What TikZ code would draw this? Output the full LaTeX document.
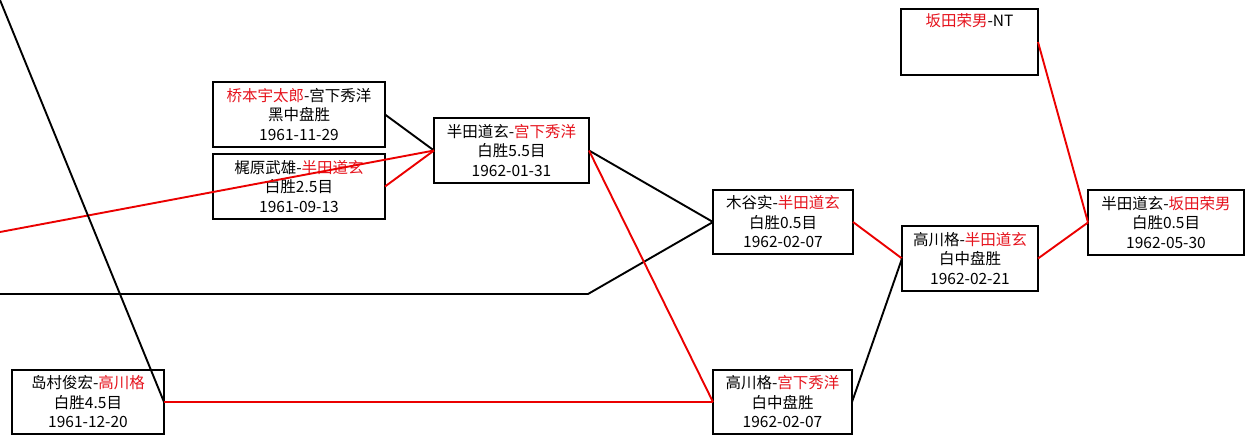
\documentclass[tikz,border=0pt]{standalone}
\usepackage{fontspec}
\newfontfamily\cjk{Noto Sans CJK SC}
\definecolor{winred}{RGB}{230,20,30}
\definecolor{linered}{RGB}{235,0,0}
\tikzset{
  game/.style={draw=black, line width=2pt, rectangle, fill=white, inner sep=0pt, outer sep=0pt,
    align=center, font=\cjk\fontsize{15.5}{19.5}\selectfont},
  blk/.style={draw=black, line width=1.9pt},
  rd/.style={draw=linered, line width=1.9pt},
}
\newcommand{\win}[1]{\textcolor{winred}{#1}}
\begin{document}
\begin{tikzpicture}[x=1pt,y=-1pt]
\useasboundingbox[fill=white] (0,0) rectangle (1252,445);
% nodes
\node[game, minimum width=172pt, minimum height=65pt] (b1) at (299,114.5) {\win{桥本宇太郎}-宫下秀洋\\黑中盘胜\\1961-11-29};
\node[game, minimum width=172pt, minimum height=65pt] (b2) at (299,186.5) {梶原武雄-\win{半田道玄}\\白胜2.5目\\1961-09-13};
\node[game, minimum width=155pt, minimum height=65pt] (c) at (511.5,150.5) {半田道玄-\win{宫下秀洋}\\白胜5.5目\\1962-01-31};
\node[game, minimum width=140pt, minimum height=64pt] (m) at (783,222) {木谷实-\win{半田道玄}\\白胜0.5目\\1962-02-07};
\node[game, minimum width=136pt, minimum height=65pt] (g2) at (970,258.5) {高川格-\win{半田道玄}\\白中盘胜\\1962-02-21};
\node[game, minimum width=156pt, minimum height=65pt] (s) at (1166,222.5) {半田道玄-\win{坂田荣男}\\白胜0.5目\\1962-05-30};
\node[game, minimum width=137pt, minimum height=66pt] (nt) at (969.5,42) {\win{坂田荣男}-NT\\\strut\\\strut};
\node[game, minimum width=152pt, minimum height=64pt] (sh) at (88,402) {岛村俊宏-\win{高川格}\\白胜4.5目\\1961-12-20};
\node[game, minimum width=139pt, minimum height=64pt] (g1) at (782.5,402) {高川格-\win{宫下秀洋}\\白中盘胜\\1962-02-07};
% free ends
\coordinate (l1) at (0,232);
\coordinate (l2) at (0,0);
\coordinate (l3) at (0,294);
\coordinate (bend) at (588,294);
% connectors
\draw[blk] (b1.east) -- (c.west);
\draw[rd] (b2.east) -- (c.west);
\draw[rd] (l1) -- (c.west);
\draw[blk] (l2) -- (sh.east);
\draw[rd] (sh.east) -- (g1.west);
\draw[blk] (l3) -- (bend) -- (m.west);
\draw[blk] (c.east) -- (m.west);
\draw[rd] (c.east) -- (g1.west);
\draw[rd] (m.east) -- (g2.west);
\draw[blk] (g1.east) -- (g2.west);
\draw[rd] (g2.east) -- (s.west);
\draw[rd] (nt.east) -- (s.west);
\end{tikzpicture}
\end{document}
